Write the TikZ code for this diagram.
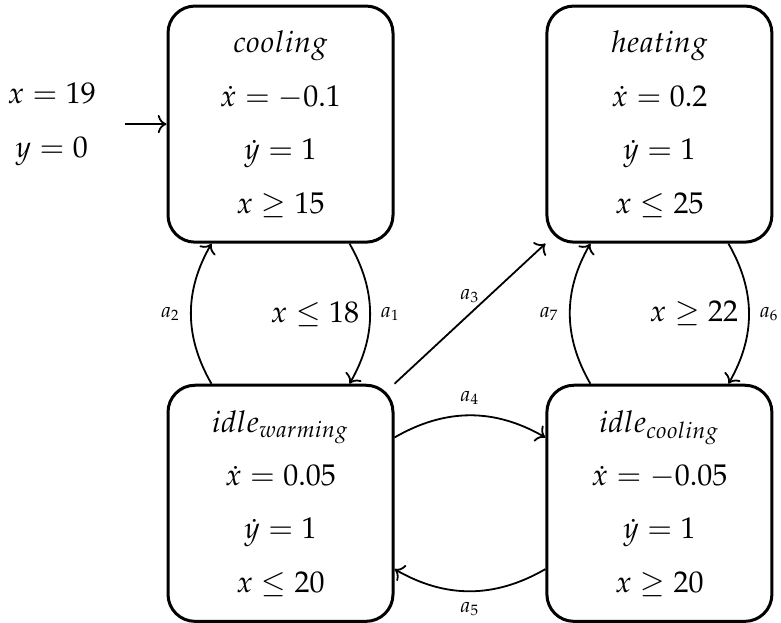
\documentclass[tikz,border=0pt]{standalone}
\usepackage{mathpazo}
\usetikzlibrary{positioning, arrows.meta}
\tikzset{
  location/.style={draw, line width=1pt, rounded corners=9pt, minimum width=75pt,
                   minimum height=78.7pt, align=center, font=\fontsize{10}{17.8}\selectfont},
  initval/.style={align=center, font=\fontsize{10}{17.8}\selectfont},
  trans/.style={->, semithick},
  act/.style={font=\scriptsize}
}

\begin{document}
\begin{tikzpicture}
    \useasboundingbox (0,0) rectangle (260.33pt,207.67pt);
    \node[location] (cool) at (93.5pt,166.3pt) {
      $cooling$\\ $\dot{x}=-0.1$\\ $\dot{y}=1$\\ $x\geq 15$
    };
    \node[location, right=50.3pt of cool] (heat) {
      $heating$\\ $\dot{x}=0.2$\\ $\dot{y}=1$\\ $x\leq 25$
    };
    \node[location, below=46.7pt of cool] (iwarm) {
      $idle_{warming}$\\ $\dot{x}=0.05$\\ $\dot{y}=1$\\ $x\leq 20$
    };
    \node[location, below=46.7pt of heat] (icool) {
      $idle_{cooling}$\\ $\dot{x}=-0.05$\\ $\dot{y}=1$\\ $x\geq 20$
    };
    \node[initval, left=20pt of cool] (init) {$x=19$\\ $y=0$};

    \draw[trans, shorten <=6pt] (init) -- (cool);
    \draw[trans] (cool.-60) to[bend left] node[left] {$x\leq 18$} node[right, act] {$a_1$} (iwarm.60);
    \draw[trans] (iwarm.120) to[bend left] node[left, act] {$a_2$} (cool.240);
    \draw[trans] (iwarm.north east) -- node[above, act] {$a_3$} (heat.south west);
    \draw[trans] (iwarm.30) to[bend left] node[above, act] {$a_4$} (icool.150);
    \draw[trans] (icool.210) to[bend left] node[below, act] {$a_5$} (iwarm.-30);
    \draw[trans] (heat.-60) to[bend left] node[left] {$x\geq 22$} node[right, act] {$a_6$} (icool.60);
    \draw[trans] (icool.120) to[bend left] node[left, act] {$a_7$} (heat.240);
  \end{tikzpicture}
\end{document}
